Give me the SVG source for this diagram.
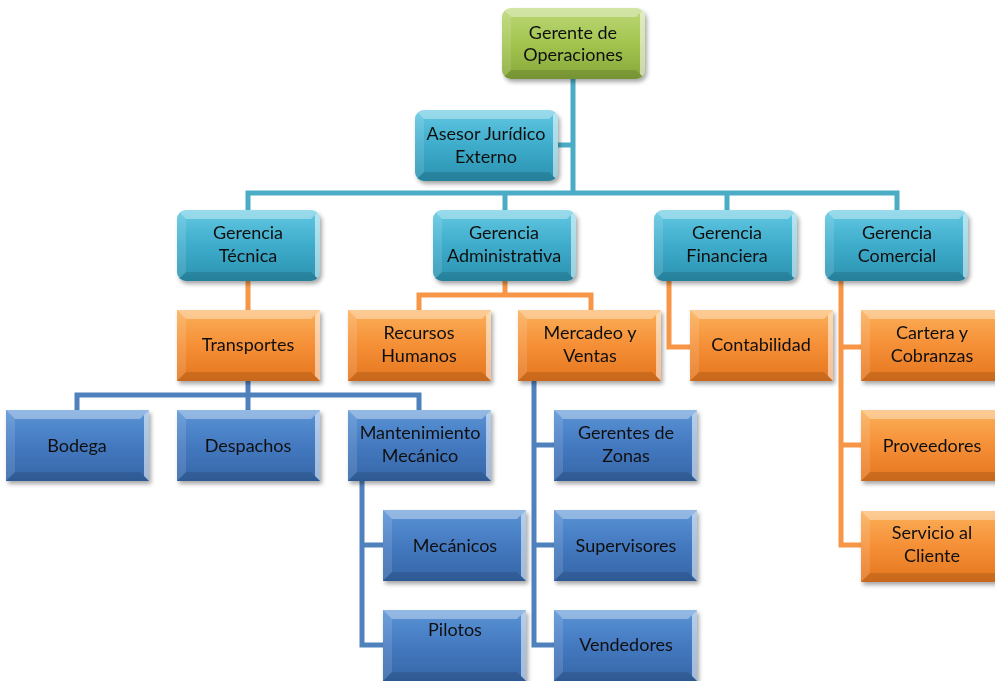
<svg xmlns="http://www.w3.org/2000/svg" xmlns:xlink="http://www.w3.org/1999/xlink" width="995" height="681" viewBox="0 0 995 681">
<defs>
<linearGradient id="gGreen" x1="0" y1="0" x2="0" y2="1"><stop offset="0" stop-color="#bcd878"/><stop offset="0.5" stop-color="#a3c44f"/><stop offset="1" stop-color="#86a83a"/></linearGradient>
<linearGradient id="gTeal" x1="0" y1="0" x2="0" y2="1"><stop offset="0" stop-color="#62c8e2"/><stop offset="0.5" stop-color="#3eaccb"/><stop offset="1" stop-color="#2b92b0"/></linearGradient>
<linearGradient id="gOrange" x1="0" y1="0" x2="0" y2="1"><stop offset="0" stop-color="#fbb05a"/><stop offset="0.5" stop-color="#f58f36"/><stop offset="1" stop-color="#e4761f"/></linearGradient>
<linearGradient id="gBlue" x1="0" y1="0" x2="0" y2="1"><stop offset="0" stop-color="#5a94d6"/><stop offset="0.5" stop-color="#4479c0"/><stop offset="1" stop-color="#3566a8"/></linearGradient>
<filter id="shadow" x="-10%" y="-10%" width="125%" height="135%"><feDropShadow dx="2" dy="3" stdDeviation="2" flood-color="#000" flood-opacity="0.35"/></filter>
<clipPath id="roundClip"><rect x="0" y="0" width="143" height="71" rx="9"/></clipPath>
<g id="bevel">
<polygon points="0,0 143,0 134,9 9,9" fill="#fff" fill-opacity="0.35"/>
<polygon points="0,0 9,9 9,62 0,71" fill="#fff" fill-opacity="0.12"/>
<polygon points="143,0 143,71 138,66 138,5" fill="#fff" fill-opacity="0.55"/>
<polygon points="0,71 143,71 134,62 9,62" fill="#000" fill-opacity="0.12"/>
</g>
<g id="bevelR" clip-path="url(#roundClip)"><use xlink:href="#bevel"/></g>
</defs>
<style>
.lnT{fill:none;stroke:#4bacc6;stroke-width:5}
.lnO{fill:none;stroke:#f79646;stroke-width:5}
.lnB{fill:none;stroke:#4f81bd;stroke-width:5}
.box{filter:url(#shadow)}
.green{fill:url(#gGreen)}
.teal{fill:url(#gTeal)}
.orange{fill:url(#gOrange)}
.blue{fill:url(#gBlue)}
text{font-family:Lato,"Open Sans","Liberation Sans",sans-serif;font-size:18px;fill:#111;text-anchor:middle}
</style>
<rect width="995" height="681" fill="#fff"/>
<g id="connectors">
<path class="lnT" d="M573,79 V193 M556,145 H573 M248,210 V193 H897 V210 M505,193 V210 M727,193 V210"/>
<path class="lnO" d="M248,280 V310 M505,280 V295 M419,310 V295 H591 V310 M669,280 V347 H690 M841,280 V545 H861 M841,347 H861 M841,445 H861"/>
<path class="lnB" d="M248,380 V395 M77,410 V395 H419 V410 M248,395 V410 M362,481 V645 H383 M362,545 H383 M534,380 V645 H554 M534,445 H554 M534,545 H554"/>
</g>
<g id="n-gerente" class="box"><g transform="translate(502,8)"><rect width="143" height="71" rx="9" class="green"/><use xlink:href="#bevelR"/></g><text x="573" y="39">Gerente de</text><text x="573" y="61">Operaciones</text></g>
<g id="n-asesor" class="box"><g transform="translate(415,110)"><rect width="143" height="71" rx="9" class="teal"/><use xlink:href="#bevelR"/></g><text x="486" y="140">Asesor Jurídico</text><text x="486" y="163">Externo</text></g>
<g id="n-gtecnica" class="box"><g transform="translate(177,210)"><rect width="143" height="71" rx="9" class="teal"/><use xlink:href="#bevelR"/></g><text x="248" y="239">Gerencia</text><text x="248" y="262">Técnica</text></g>
<g id="n-gadmin" class="box"><g transform="translate(433,210)"><rect width="143" height="71" rx="9" class="teal"/><use xlink:href="#bevelR"/></g><text x="504" y="239">Gerencia</text><text x="504" y="262">Administrativa</text></g>
<g id="n-gfin" class="box"><g transform="translate(654,210)"><rect width="143" height="71" rx="9" class="teal"/><use xlink:href="#bevelR"/></g><text x="727" y="239">Gerencia</text><text x="727" y="262">Financiera</text></g>
<g id="n-gcom" class="box"><g transform="translate(825,210)"><rect width="143" height="71" rx="9" class="teal"/><use xlink:href="#bevelR"/></g><text x="897" y="239">Gerencia</text><text x="897" y="262">Comercial</text></g>
<g id="n-transportes" class="box"><g transform="translate(177,310)"><rect width="143" height="71" class="orange"/><use xlink:href="#bevel"/></g><text x="248" y="351">Transportes</text></g>
<g id="n-rrhh" class="box"><g transform="translate(348,310)"><rect width="143" height="71" class="orange"/><use xlink:href="#bevel"/></g><text x="419" y="339">Recursos</text><text x="419" y="362">Humanos</text></g>
<g id="n-mercadeo" class="box"><g transform="translate(518,310)"><rect width="143" height="71" class="orange"/><use xlink:href="#bevel"/></g><text x="590" y="339">Mercadeo y</text><text x="590" y="362">Ventas</text></g>
<g id="n-contabilidad" class="box"><g transform="translate(690,310)"><rect width="143" height="71" class="orange"/><use xlink:href="#bevel"/></g><text x="761" y="351">Contabilidad</text></g>
<g id="n-cartera" class="box"><g transform="translate(861,310)"><rect width="143" height="71" class="orange"/><use xlink:href="#bevel"/></g><text x="932" y="339">Cartera y</text><text x="932" y="362">Cobranzas</text></g>
<g id="n-proveedores" class="box"><g transform="translate(861,410)"><rect width="143" height="71" class="orange"/><use xlink:href="#bevel"/></g><text x="932" y="452">Proveedores</text></g>
<g id="n-servicio" class="box"><g transform="translate(861,511)"><rect width="143" height="71" class="orange"/><use xlink:href="#bevel"/></g><text x="932" y="539">Servicio al</text><text x="932" y="562">Cliente</text></g>
<g id="n-bodega" class="box"><g transform="translate(6,410)"><rect width="143" height="71" class="blue"/><use xlink:href="#bevel"/></g><text x="77" y="452">Bodega</text></g>
<g id="n-despachos" class="box"><g transform="translate(177,410)"><rect width="143" height="71" class="blue"/><use xlink:href="#bevel"/></g><text x="248" y="452">Despachos</text></g>
<g id="n-mant" class="box"><g transform="translate(348,410)"><rect width="143" height="71" class="blue"/><use xlink:href="#bevel"/></g><text x="420" y="439">Mantenimiento</text><text x="420" y="462">Mecánico</text></g>
<g id="n-mecanicos" class="box"><g transform="translate(383,510)"><rect width="143" height="71" class="blue"/><use xlink:href="#bevel"/></g><text x="455" y="552">Mecánicos</text></g>
<g id="n-pilotos" class="box"><g transform="translate(383,610)"><rect width="143" height="71" class="blue"/><use xlink:href="#bevel"/></g><text x="455" y="636">Pilotos</text></g>
<g id="n-gzonas" class="box"><g transform="translate(554,410)"><rect width="143" height="71" class="blue"/><use xlink:href="#bevel"/></g><text x="626" y="439">Gerentes de</text><text x="626" y="462">Zonas</text></g>
<g id="n-supervisores" class="box"><g transform="translate(554,510)"><rect width="143" height="71" class="blue"/><use xlink:href="#bevel"/></g><text x="626" y="552">Supervisores</text></g>
<g id="n-vendedores" class="box"><g transform="translate(554,610)"><rect width="143" height="71" class="blue"/><use xlink:href="#bevel"/></g><text x="626" y="651">Vendedores</text></g>
</svg>
